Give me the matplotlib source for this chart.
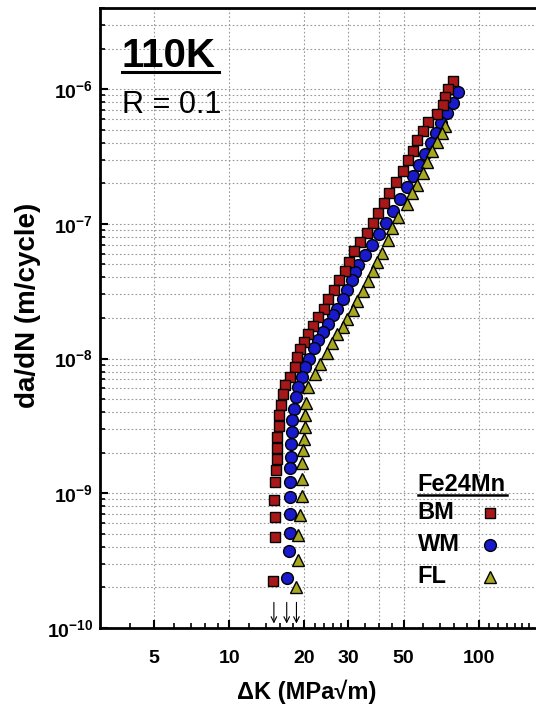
import numpy as np
import matplotlib
matplotlib.use('Agg')
import matplotlib.pyplot as plt
from matplotlib.ticker import FixedLocator, NullFormatter

# da/dN vs dK at 110K, R = 0.1
bm_dk = [78.7, 75.6, 73.3, 71.7, 67.9, 62.8, 59.6, 56.4, 54.4, 52.2, 49.6, 46.5, 43.8, 41.9, 39.6, 37.6,
         35.6, 33.4, 31.6, 30.3, 29.1, 27.6, 26.3, 25.0, 24.0, 22.8, 21.7, 20.7, 19.9, 19.2, 18.75, 18.35,
         17.5, 16.7, 16.4, 16.1, 15.9, 15.8, 15.6, 15.6, 15.5, 15.4, 15.3, 15.15, 15.3, 15.3, 15.0]
bm_dadn = [1.14e-6, 1.0e-6, 8.72e-7, 7.64e-7, 6.55e-7, 5.74e-7, 4.92e-7, 4.20e-7, 3.50e-7, 2.98e-7,
           2.47e-7, 2.03e-7, 1.70e-7, 1.43e-7, 1.21e-7, 1.02e-7, 8.59e-8, 7.36e-8, 6.31e-8, 5.23e-8,
           4.48e-8, 3.82e-8, 3.22e-8, 2.75e-8, 2.35e-8, 2.04e-8, 1.74e-8, 1.53e-8, 1.33e-8, 1.17e-8,
           1.02e-8, 8.66e-9, 7.30e-9, 6.33e-9, 5.49e-9, 4.50e-9, 3.79e-9, 3.14e-9, 2.61e-9, 2.18e-9,
           1.80e-9, 1.50e-9, 1.21e-9, 8.84e-10, 6.64e-10, 4.72e-10, 2.25e-10]

wm_dk = [82.8, 79.1, 74.4, 70.6, 67.4, 64.4, 60.9, 57.6, 54.5, 51.6, 48.4, 45.4, 42.5, 39.8, 37.4, 35.0,
         32.9, 31.9, 31.0, 29.6, 28.5, 27.1, 26.1, 25.0, 23.8, 22.8, 21.9, 20.9, 20.1, 19.5, 18.9, 18.5,
         18.2, 17.9, 17.8, 17.7, 17.7, 17.6, 17.5, 17.5, 17.5, 17.5, 17.4, 17.1]
wm_dadn = [9.50e-7, 7.95e-7, 6.63e-7, 5.62e-7, 4.73e-7, 3.99e-7, 3.30e-7, 2.74e-7, 2.27e-7, 1.88e-7,
           1.53e-7, 1.245e-7, 1.01e-7, 8.40e-8, 6.96e-8, 5.86e-8, 4.94e-8, 4.38e-8, 3.82e-8, 3.22e-8,
           2.79e-8, 2.35e-8, 2.10e-8, 1.82e-8, 1.58e-8, 1.37e-8, 1.19e-8, 1.0e-8, 8.66e-9, 7.30e-9,
           6.15e-9, 5.16e-9, 4.25e-9, 3.48e-9, 2.85e-9, 2.31e-9, 1.87e-9, 1.53e-9, 1.21e-9, 9.31e-10,
           6.96e-10, 5.11e-10, 3.75e-10, 2.35e-10]

fl_dk = [73.3, 71.1, 67.9, 64.8, 61.9, 59.6, 56.4, 53.9, 51.5, 47.6, 45.1, 43.4, 40.9, 39.1, 37.8, 36.1,
         34.3, 32.4, 31.3, 29.6, 28.5, 27.0, 25.8, 24.6, 23.1, 22.1, 20.7, 20.3, 20.1, 20.1, 20.0, 19.8,
         19.6, 19.5, 19.5, 19.2, 18.9, 18.9, 18.6]
fl_dadn = [5.33e-7, 4.71e-7, 4.08e-7, 3.50e-7, 2.89e-7, 2.37e-7, 1.94e-7, 1.68e-7, 1.40e-7, 1.12e-7,
           9.26e-8, 7.58e-8, 6.03e-8, 5.20e-8, 4.48e-8, 3.78e-8, 3.18e-8, 2.68e-8, 2.31e-8, 1.98e-8,
           1.72e-8, 1.52e-8, 1.31e-8, 1.10e-8, 9.18e-9, 7.74e-9, 6.12e-9, 4.65e-9, 3.79e-9, 3.10e-9,
           2.54e-9, 2.08e-9, 1.69e-9, 1.27e-9, 9.47e-10, 6.84e-10, 4.94e-10, 3.17e-10, 2.00e-10]

# threshold arrows (BM, WM, FL)
th_dk = [15.1, 17.0, 18.6]

x_major = [5, 10, 20, 30, 50, 100]
x_labels = ['5', '10', '20', '30', '50', '100']
x_minor = [4, 6, 7, 8, 9, 12, 14, 16, 18, 22, 24, 26, 28, 35, 40, 45, 60, 70, 80, 90,
           110, 120, 130, 140, 150, 160]
x_grid = [5, 10, 20, 30, 40, 50, 100]
y_major = [1e-10, 1e-9, 1e-8, 1e-7, 1e-6]
y_labels = ['10^{-10}', '10^{-9}', '10^{-8}', '10^{-7}', '10^{-6}']

c_bm = '#A81818'
c_wm = '#1A1ACD'
c_fl = '#A8A820'

plt.rcParams['font.family'] = 'Liberation Sans'
plt.rcParams['mathtext.fontset'] = 'custom'
plt.rcParams['mathtext.rm'] = 'Liberation Sans'
plt.rcParams['mathtext.bf'] = 'Liberation Sans:bold'

fig = plt.figure(figsize=(5.36, 7.06), dpi=100)
ax = fig.add_axes([100/536, 78/706, 436/536, 620/706])

ax.set_xscale('log')
ax.set_yscale('log')

ax.plot(wm_dk, wm_dadn, 'o', ms=8.5, mfc=c_wm, mec='k', mew=1.0, zorder=3)
ax.plot(fl_dk, fl_dadn, '^', ms=9, mfc=c_fl, mec='k', mew=1.0, zorder=4)
ax.plot(bm_dk, bm_dadn, 's', ms=7.5, mfc=c_bm, mec='k', mew=1.0, zorder=5)

ax.set_xlim(3.03, 170)
ax.set_ylim(1e-10, 4.0e-6)

ax.xaxis.set_major_locator(FixedLocator(x_major))
ax.xaxis.set_minor_locator(FixedLocator(x_minor))
ax.set_xticklabels(x_labels)
ax.xaxis.set_minor_formatter(NullFormatter())
ax.yaxis.set_major_locator(FixedLocator(y_major))
ax.set_yticklabels([r'$\mathbf{' + s + '}$' for s in y_labels])
ax.yaxis.set_minor_formatter(NullFormatter())

for lab in ax.get_xticklabels() + ax.get_yticklabels():
    lab.set_fontweight('bold')
    lab.set_fontsize(14)

ax.tick_params(which='major', direction='in', length=6, width=1.5)
ax.tick_params(which='minor', direction='in', length=3.5, width=1.2)
ax.tick_params(axis='x', which='major', pad=16)
ax.tick_params(axis='y', which='major', pad=5)

for s in ['left', 'bottom', 'top']:
    ax.spines[s].set_linewidth(2)
ax.spines['right'].set_visible(False)

ax.yaxis.grid(True, which='both', linestyle=(0, (1.5, 2)), color='#999999', lw=0.8)
for gx in x_grid:
    ax.axvline(gx, linestyle=(0, (1.5, 2)), color='#999999', lw=0.8, zorder=1)

ax.set_xlabel('ΔK (MPa√m)', fontsize=17, fontweight='bold', labelpad=6)
ax.xaxis.set_label_coords(0.475, -0.083)
ax.set_ylabel('da/dN (m/cycle)', fontsize=20, fontweight='bold')
ax.yaxis.set_label_coords(-0.135, 0.52)

for th in th_dk:
    ax.annotate('', xy=(th, 1.08e-10), xytext=(th, 1.55e-10),
                arrowprops=dict(arrowstyle='->', lw=0.8, color='k', shrinkA=0, shrinkB=0))

# title block
ax.text(0.05, 0.905, '110K', transform=ax.transAxes, fontsize=29, fontweight='bold', va='baseline')
ax.plot([0.05, 0.274], [0.897, 0.897], transform=ax.transAxes, color='k', lw=2.2, clip_on=False)
ax.text(0.05, 0.831, 'R = 0.1', transform=ax.transAxes, fontsize=22, va='baseline')

# legend
ax.text(0.729, 0.221, 'Fe24Mn', transform=ax.transAxes, fontsize=17, fontweight='bold', va='baseline')
ax.plot([0.729, 0.933], [0.214, 0.214], transform=ax.transAxes, color='k', lw=1.8, clip_on=False)
leg_rows = [('BM', 's', c_bm, 7.5, 0.186), ('WM', 'o', c_wm, 8.5, 0.134), ('FL', '^', c_fl, 9, 0.083)]
for name, mk, col, ms, yy in leg_rows:
    ax.text(0.729, yy, name, transform=ax.transAxes, fontsize=17, fontweight='bold', va='center')
    ax.plot([0.894], [yy], mk, ms=ms, mfc=col, mec='k', mew=1.0, transform=ax.transAxes, zorder=6)

fig.savefig('out.png', dpi=100)
